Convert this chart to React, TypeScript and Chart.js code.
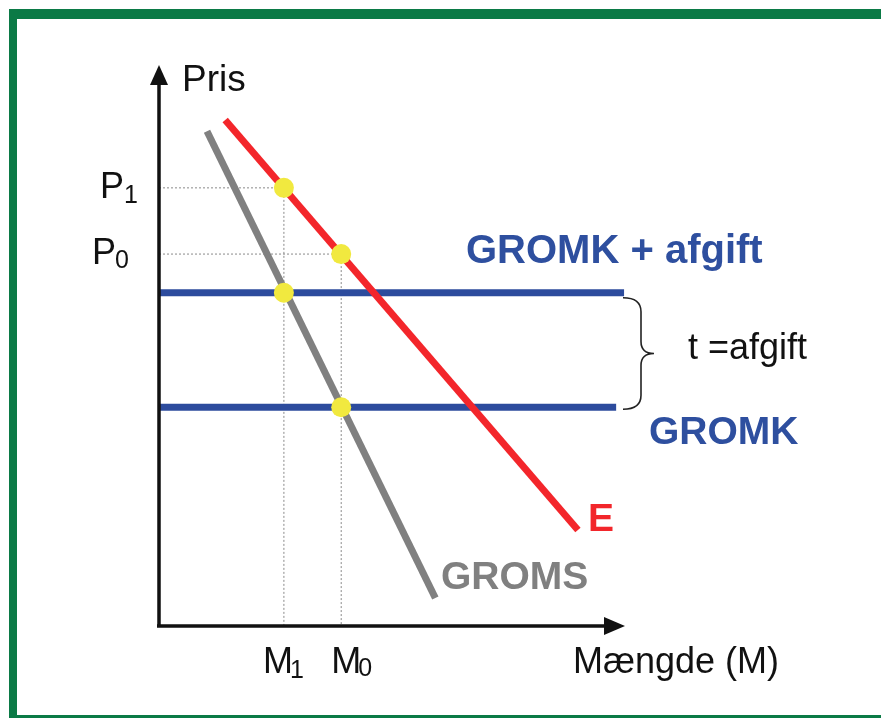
import React, { useEffect, useRef } from "react";
import { Chart, registerables } from "chart.js";

Chart.register(...registerables);

// Curves in chart units (x: quantity 0..100, y: price 0..100)
const demandE = [
  { x: 14.2, y: 90.2 },
  { x: 89.9, y: 17.1 },
];
const groms = [
  { x: 10.3, y: 88.2 },
  { x: 59.3, y: 5.0 },
];
const gromkLevel = 39.0;
const gromkTaxLevel = 59.4;
const gromkEnd = 98.1;
const gromkTaxEnd = 99.8;
const P1 = 78.1;
const P0 = 66.3;
const M1 = 26.8;
const M0 = 39.1;
const equilibria = [
  { x: M1, y: P1 },
  { x: M0, y: P0 },
  { x: M1, y: gromkTaxLevel },
  { x: M0, y: gromkLevel },
];

const FONT = "'Liberation Sans', Arial, sans-serif";

const overlay = {
  id: "overlay",
  afterDatasetsDraw(chart: any) {
    const ctx = chart.ctx as CanvasRenderingContext2D;
    const xs = chart.scales.x;
    const ys = chart.scales.y;
    const x0 = xs.getPixelForValue(0);
    const y0 = ys.getPixelForValue(0);
    const xEnd = xs.getPixelForValue(100);
    const yEnd = ys.getPixelForValue(100);
    ctx.save();
    // axes
    ctx.strokeStyle = "#111";
    ctx.fillStyle = "#111";
    ctx.lineWidth = 3.5;
    ctx.beginPath();
    ctx.moveTo(x0, y0 + 1.5);
    ctx.lineTo(x0, yEnd + 18);
    ctx.moveTo(x0 - 2, y0);
    ctx.lineTo(xEnd - 18, y0);
    ctx.stroke();
    ctx.beginPath();
    ctx.moveTo(x0, yEnd);
    ctx.lineTo(x0 - 9, yEnd + 20);
    ctx.lineTo(x0 + 9, yEnd + 20);
    ctx.closePath();
    ctx.fill();
    ctx.beginPath();
    ctx.moveTo(xEnd, y0);
    ctx.lineTo(xEnd - 21, y0 - 9);
    ctx.lineTo(xEnd - 21, y0 + 9);
    ctx.closePath();
    ctx.fill();

    // brace
    const yt = ys.getPixelForValue(gromkTaxLevel) + 5;
    const yb = ys.getPixelForValue(gromkLevel) + 2;
    const ym = (yt + yb) / 2;
    const bx = 623;
    const bc = 641;
    ctx.lineWidth = 1.6;
    ctx.strokeStyle = "#222";
    ctx.beginPath();
    ctx.moveTo(bx, yt);
    ctx.quadraticCurveTo(bc, yt, bc, yt + 14);
    ctx.lineTo(bc, ym - 12);
    ctx.quadraticCurveTo(bc, ym, bc + 13, ym);
    ctx.quadraticCurveTo(bc, ym, bc, ym + 12);
    ctx.lineTo(bc, yb - 14);
    ctx.quadraticCurveTo(bc, yb, bx, yb);
    ctx.stroke();

    // texts
    ctx.textBaseline = "alphabetic";
    ctx.textAlign = "left";
    ctx.fillStyle = "#111";
    ctx.font = `37px ${FONT}`;
    ctx.fillText("Pris", x0 + 23, yEnd + 26);
    ctx.font = `36px ${FONT}`;
    const p1y = ys.getPixelForValue(P1);
    const p0y = ys.getPixelForValue(P0);
    ctx.fillText("P", 100, p1y + 10);
    ctx.fillText("P", 92, p0y + 10);
    const m1x = xs.getPixelForValue(M1);
    const m0x = xs.getPixelForValue(M0);
    ctx.fillText("M", m1x - 21, y0 + 47);
    ctx.fillText("M", m0x - 10, y0 + 47);
    ctx.fillText("Mængde (M)", 573, y0 + 47);
    ctx.fillText("t =afgift", 688, ym + 6);
    ctx.font = `25px ${FONT}`;
    ctx.fillText("1", 124, p1y + 15);
    ctx.fillText("0", 115, p0y + 14);
    ctx.fillText("1", m1x + 6, y0 + 52);
    ctx.fillText("0", m0x + 17, y0 + 50);

    ctx.font = `bold 40px ${FONT}`;
    ctx.fillStyle = "#2e4f9f";
    ctx.fillText("GROMK + afgift", 466, ys.getPixelForValue(gromkTaxLevel) - 30);
    ctx.font = `bold 39px ${FONT}`;
    ctx.fillText("GROMK", 649, ys.getPixelForValue(gromkLevel) + 37);
    ctx.fillStyle = "#f2262b";
    ctx.fillText("E", 588, ys.getPixelForValue(demandE[1].y) + 1);
    ctx.fillStyle = "#808080";
    ctx.fillText("GROMS", 441, ys.getPixelForValue(groms[1].y) - 9);
    ctx.restore();
  },
};

export default function App() {
  const ref = useRef<HTMLCanvasElement>(null);
  useEffect(() => {
    if (!ref.current) return;
    const dotted = {
      borderColor: "#8a8a8a",
      borderWidth: 1,
      borderDash: [2, 2],
      pointRadius: 0,
      showLine: true,
      fill: false,
    };
    const chart = new Chart(ref.current, {
      type: "scatter",
      data: {
        datasets: [
          {
            label: "ligevægte",
            data: equilibria,
            backgroundColor: "#f1e93f",
            borderWidth: 0,
            pointRadius: 10,
            pointHoverRadius: 10,
            order: 0,
          } as any,
          {
            label: "E",
            data: demandE,
            borderColor: "#f3262b",
            borderWidth: 7,
            pointRadius: 0,
            showLine: true,
            order: 1,
          },
          {
            label: "GROMS",
            data: groms,
            borderColor: "#808080",
            borderWidth: 7,
            pointRadius: 0,
            showLine: true,
            order: 2,
          },
          {
            label: "GROMK + afgift",
            data: [
              { x: 0, y: gromkTaxLevel },
              { x: gromkTaxEnd, y: gromkTaxLevel },
            ],
            borderColor: "#2c4b9d",
            borderWidth: 7,
            pointRadius: 0,
            showLine: true,
            order: 3,
          },
          {
            label: "GROMK",
            data: [
              { x: 0, y: gromkLevel },
              { x: gromkEnd, y: gromkLevel },
            ],
            borderColor: "#2c4b9d",
            borderWidth: 7,
            pointRadius: 0,
            showLine: true,
            order: 3,
          },
          { label: "p1", data: [{ x: 0, y: P1 }, { x: M1, y: P1 }], ...dotted, order: 5 } as any,
          { label: "p0", data: [{ x: 0, y: P0 }, { x: M0, y: P0 }], ...dotted, order: 5 } as any,
          { label: "m1", data: [{ x: M1, y: P1 }, { x: M1, y: 0 }], ...dotted, order: 5 } as any,
          { label: "m0", data: [{ x: M0, y: P0 }, { x: M0, y: 0 }], ...dotted, order: 5 } as any,
        ],
      },
      options: {
        animation: false,
        responsive: false,
        layout: { padding: { left: 159, top: 65, right: 256, bottom: 92 } },
        plugins: { legend: { display: false }, tooltip: { enabled: false } },
        events: [],
        scales: {
          x: { type: "linear", min: 0, max: 100, display: false },
          y: { type: "linear", min: 0, max: 100, display: false },
        },
      },
      plugins: [overlay],
    });
    return () => chart.destroy();
  }, []);
  return (
    <div
      style={{
        position: "absolute",
        left: 0,
        top: 0,
        width: 881,
        height: 718,
        overflow: "hidden",
        background: "#fff",
      }}
    >
      <div
        style={{
          position: "absolute",
          left: 9,
          top: 9,
          width: 1000,
          height: 715,
          boxSizing: "border-box",
          borderStyle: "solid",
          borderColor: "#0b7a46",
          borderTopWidth: 10,
          borderLeftWidth: 8,
          borderBottomWidth: 9,
          borderRightWidth: 8,
        }}
      />
      <canvas
        ref={ref}
        width={881}
        height={718}
        style={{ position: "absolute", left: 0, top: 0 }}
      />
    </div>
  );
}
